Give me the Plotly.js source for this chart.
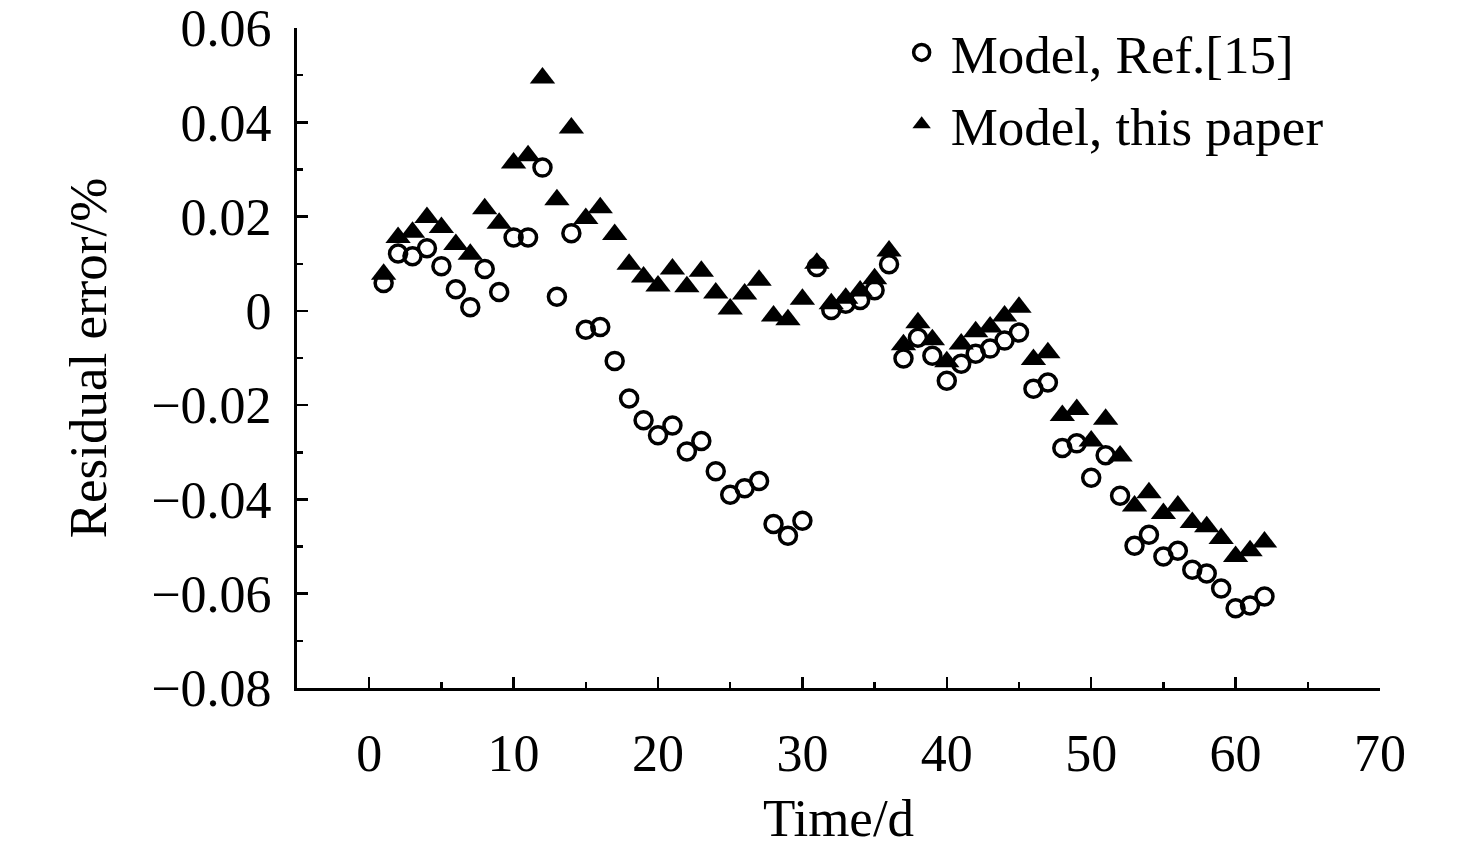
<!DOCTYPE html>
<html>
<head>
<meta charset="utf-8">
<script src="https://cdn.plot.ly/plotly-3.0.1.min.js"></script>
<style>
  html, body { margin: 0; padding: 0; background: #fff; }
  #chart { width: 1476px; height: 848px; }
</style>
</head>
<body>
<div id="chart"></div>
<script>
// Time axis (days)
const days = [1, 2, 3, 4, 5, 6, 7, 8, 9, 10, 11, 12, 13, 14, 15, 16, 17, 18, 19, 20,
  21, 22, 23, 24, 25, 26, 27, 28, 29, 30, 31, 32, 33, 34, 35, 36, 37, 38, 39, 40,
  41, 42, 43, 44, 45, 46, 47, 48, 49, 50, 51, 52, 53, 54, 55, 56, 57, 58, 59, 60,
  61, 62];

// Residual error, model of Ref.[15]
const refModel = [0.0059, 0.0122, 0.0116, 0.0133, 0.0095, 0.0046, 0.0008, 0.0089, 0.0040, 0.0156,
  0.0156, 0.0304, 0.0030, 0.0165, -0.0040, -0.0034, -0.0106, -0.0186, -0.0232, -0.0264,
  -0.0243, -0.0298, -0.0276, -0.0340, -0.0390, -0.0376, -0.0361, -0.0452, -0.0477, -0.0445,
  0.0093, 0.0002, 0.0015, 0.0023, 0.0044, 0.0099, -0.0101, -0.0057, -0.0095, -0.0148,
  -0.0112, -0.0091, -0.0080, -0.0063, -0.0046, -0.0165, -0.0152, -0.0291, -0.0281, -0.0354,
  -0.0306, -0.0392, -0.0498, -0.0475, -0.0521, -0.0509, -0.0549, -0.0557, -0.0589, -0.0631,
  -0.0625, -0.0606];

// Residual error, model of this paper
const thisModel = [0.0078, 0.0156, 0.0167, 0.0198, 0.0177, 0.0141, 0.0120, 0.0217, 0.0186, 0.0314,
  0.0329, 0.0494, 0.0236, 0.0388, 0.0196, 0.0219, 0.0162, 0.0099, 0.0072, 0.0053,
  0.0089, 0.0051, 0.0084, 0.0038, 0.0004, 0.0036, 0.0065, -0.0011, -0.0019, 0.0025,
  0.0101, 0.0015, 0.0027, 0.0042, 0.0068, 0.0127, -0.0072, -0.0025, -0.0061, -0.0108,
  -0.0070, -0.0044, -0.0034, -0.0011, 0.0008, -0.0103, -0.0089, -0.0222, -0.0209, -0.0276,
  -0.0230, -0.0308, -0.0414, -0.0386, -0.0430, -0.0414, -0.0449, -0.0458, -0.0483, -0.0521,
  -0.0509, -0.0490];

const seriesNames = ['Model, Ref.[15]', 'Model, this paper'];
const xTicks = [0, 10, 20, 30, 40, 50, 60, 70];
const yTicks = [-0.08, -0.06, -0.04, -0.02, 0, 0.02, 0.04, 0.06];
const yTickText = ['\u22120.08', '\u22120.06', '\u22120.04', '\u22120.02', '0', '0.02', '0.04', '0.06'];

const serif = 'Liberation Serif, Times New Roman, serif';

const traces = [
  {
    x: days, y: refModel, name: seriesNames[0],
    type: 'scatter', mode: 'markers',
    marker: { symbol: 'circle-open', size: 17, color: '#000', line: { width: 3.5, color: '#000' } }
  },
  {
    x: days, y: thisModel, name: seriesNames[1],
    type: 'scatter', mode: 'markers',
    marker: { symbol: 'triangle-up', size: 22, color: '#000', line: { width: 0 } }
  }
];

const layout = {
  width: 1476, height: 848,
  margin: { l: 297, r: 96, t: 25, b: 160 },
  paper_bgcolor: '#fff', plot_bgcolor: '#fff',
  font: { family: serif, size: 52, color: '#000' },
  showlegend: true,
  legend: {
    x: 0.55, y: 1.025, xanchor: 'left', yanchor: 'top',
    bgcolor: 'rgba(0,0,0,0)', font: { family: serif, size: 53 },
    itemwidth: 48, tracegroupgap: 0
  },
  xaxis: {
    range: [-5, 70], tickvals: xTicks, ticktext: xTicks.map(String),
    ticks: 'inside', ticklen: 11, tickwidth: 2.5, tickcolor: '#000',
    minor: { dtick: 5, tick0: 0, ticks: 'inside', ticklen: 6, tickwidth: 2.5, tickcolor: '#000' },
    showline: true, linewidth: 3, linecolor: '#000', mirror: false,
    showgrid: false, zeroline: false,
    ticklabelstandoff: 18,
    tickfont: { family: serif, size: 52 },
    title: { text: 'Time/d', font: { family: serif, size: 53 }, standoff: 18 }
  },
  yaxis: {
    range: [-0.08, 0.06002], tickvals: yTicks, ticktext: yTickText,
    ticks: 'inside', ticklen: 11, tickwidth: 2.5, tickcolor: '#000',
    minor: { dtick: 0.01, tick0: 0, ticks: 'inside', ticklen: 6, tickwidth: 2.5, tickcolor: '#000' },
    showline: true, linewidth: 3, linecolor: '#000', mirror: false,
    showgrid: false, zeroline: false,
    ticklabelstandoff: 12,
    tickfont: { family: serif, size: 52 },
    title: { text: 'Residual error/%', font: { family: serif, size: 53 }, standoff: 28 }
  }
};

Plotly.newPlot('chart', traces, layout, { staticPlot: true, displayModeBar: false });
</script>
</body>
</html>
